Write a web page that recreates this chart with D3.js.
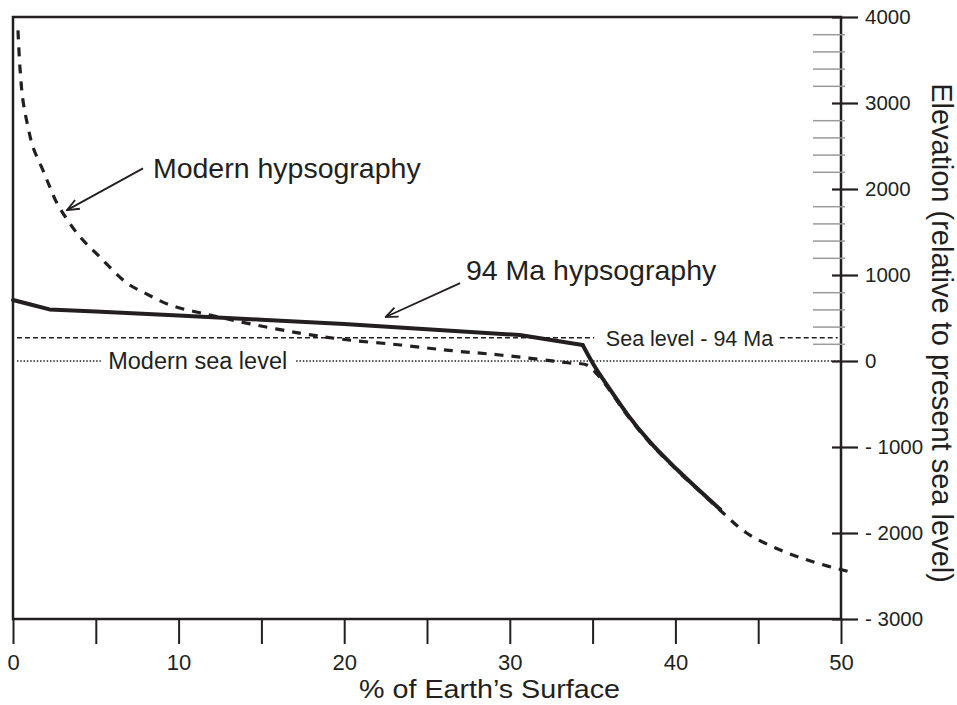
<!DOCTYPE html>
<html>
<head>
<meta charset="utf-8">
<script src="https://cdn.jsdelivr.net/npm/d3@7"></script>
<style>
  body { margin: 0; background: #fff; }
  svg text { font-family: "Liberation Sans", Arial, sans-serif; fill: #231f20; }
</style>
</head>
<body>
<div id="chart"></div>
<script>
// modern hypsography (dashed) : % of surface vs elevation (m)
var modernPct  = [0.30, 0.42, 0.60, 0.91, 1.21, 1.81, 2.23, 2.66, 3.86, 5.25, 6.88, 7.97, 9.5, 11.9, 14.1, 17.3, 20, 23.4, 26.5, 29.4, 33.5, 34.7, 35.3, 36.05, 37.1, 38.5, 40.1, 41.5, 42.7, 44.3, 46.3, 48.3, 50.5];
var modernElev = [3844, 3415, 3031, 2718, 2485, 2218, 2021, 1835, 1487, 1208, 906, 790, 650, 534, 441, 325, 250, 186, 120, 70, -20, -50, -160, -345, -635, -960, -1272, -1520, -1735, -2000, -2195, -2335, -2450];

// 94 Ma hypsography (solid): shelf part, then slope part from the break at 34.4 %
var ma94Pct  = [0, 1, 2.2, 5, 10, 15, 20, 25, 30.6, 34.4, 35.0, 36.05, 37.1, 38.5, 40.1, 41.5, 42.7];
var ma94Elev = [710, 660, 600, 575, 530, 480, 430, 370, 302, 186, -23, -330, -620, -950, -1262, -1515, -1725];
var ma94Break = 9; // index of the shelf break

var seaLevel94 = 270;
var seaLevelModern = 0;

var xTicks = [0, 5, 10, 15, 20, 25, 30, 35, 40, 45, 50];
var yTicks = [-3000, -2000, -1000, 0, 1000, 2000, 3000, 4000];
var yMinorTicks = d3.range(200, 4000, 200).filter(function (d) { return d % 1000 != 0; });

var width = 957, height = 705;
var ink = "#231f20";

var svg = d3.select("#chart").append("svg")
    .attr("width", width)
    .attr("height", height);

var x = d3.scaleLinear().domain([0, 50]).range([13, 841]);
var y = d3.scaleLinear().domain([-3000, 4000]).range([619, 17]);

// arrow marker
svg.append("defs").append("marker")
    .attr("id", "arrow")
    .attr("viewBox", "0 0 14 12")
    .attr("refX", 13)
    .attr("refY", 6)
    .attr("markerUnits", "userSpaceOnUse")
    .attr("markerWidth", 14)
    .attr("markerHeight", 12)
    .attr("orient", "auto")
    .append("path")
    .attr("d", "M1,1 L13,6 L1,11")
    .attr("fill", "none")
    .attr("stroke", ink)
    .attr("stroke-width", 1.8);

// sea level lines (with gaps for labels)
svg.append("line")
    .attr("x1", x(0.24)).attr("x2", x(35.1))
    .attr("y1", y(seaLevel94)).attr("y2", y(seaLevel94))
    .attr("stroke", ink).attr("stroke-width", 1.6).attr("stroke-dasharray", "5,3");
svg.append("line")
    .attr("x1", x(46.3)).attr("x2", x(49.8))
    .attr("y1", y(seaLevel94)).attr("y2", y(seaLevel94))
    .attr("stroke", ink).attr("stroke-width", 1.6).attr("stroke-dasharray", "5,3");
svg.append("line")
    .attr("x1", x(0.24)).attr("x2", x(5.3))
    .attr("y1", y(seaLevelModern)).attr("y2", y(seaLevelModern))
    .attr("stroke", ink).attr("stroke-width", 1.6).attr("stroke-dasharray", "1.5,1.8");
svg.append("line")
    .attr("x1", x(17.1)).attr("x2", x(50))
    .attr("y1", y(seaLevelModern)).attr("y2", y(seaLevelModern))
    .attr("stroke", ink).attr("stroke-width", 1.6).attr("stroke-dasharray", "1.5,1.8");

svg.append("text")
    .attr("x", x(35.8)).attr("y", y(seaLevel94) + 8)
    .style("font-size", "21.5px")
    .text("Sea level - 94 Ma");
svg.append("text")
    .attr("x", x(5.75)).attr("y", y(seaLevelModern) + 8)
    .style("font-size", "23.5px")
    .text("Modern sea level");

// curves
var modernData = modernPct.map(function (d, i) { return [d, modernElev[i]]; });
var ma94Data = ma94Pct.map(function (d, i) { return [d, ma94Elev[i]]; });

var line = d3.line()
    .x(function (d) { return x(d[0]); })
    .y(function (d) { return y(d[1]); });

svg.append("path")
    .datum(modernData)
    .attr("d", line.curve(d3.curveCatmullRom.alpha(0.5)))
    .attr("fill", "none")
    .attr("stroke", ink)
    .attr("stroke-width", 3.2)
    .attr("stroke-dasharray", "9,8");

svg.append("path")
    .datum(ma94Data.slice(0, ma94Break + 1))
    .attr("d", line.curve(d3.curveLinear))
    .attr("fill", "none")
    .attr("stroke", ink)
    .attr("stroke-width", 4)
    .attr("stroke-linejoin", "round")
    .attr("stroke-linecap", "round");

svg.append("path")
    .datum(ma94Data.slice(ma94Break))
    .attr("d", line.curve(d3.curveMonotoneX))
    .attr("fill", "none")
    .attr("stroke", ink)
    .attr("stroke-width", 4)
    .attr("stroke-linecap", "round");

// frame
svg.append("rect")
    .attr("x", x(0)).attr("y", y(4000))
    .attr("width", x(50) - x(0))
    .attr("height", y(-3000) - y(4000))
    .attr("fill", "none")
    .attr("stroke", ink)
    .attr("stroke-width", 2.5);

// x axis
var xAxis = svg.append("g")
    .attr("transform", "translate(0," + y(-3000) + ")")
    .call(d3.axisBottom(x)
        .tickValues(xTicks)
        .tickSize(25)
        .tickPadding(10)
        .tickFormat(function (d) { return d % 10 == 0 ? d : ""; }));
xAxis.select(".domain").remove();
xAxis.selectAll(".tick line").attr("stroke", ink).attr("stroke-width", 2);
xAxis.selectAll("text")
    .style("font-family", "'Liberation Sans', Arial, sans-serif")
    .style("font-size", "22px")
    .style("fill", ink);

svg.append("text")
    .attr("x", 359)
    .attr("y", 698)
    .attr("textLength", 261)
    .attr("lengthAdjust", "spacingAndGlyphs")
    .style("font-size", "25px")
    .text("% of Earth\u2019s Surface");

// y axis (right) minor ticks
var yMinor = svg.append("g")
    .attr("transform", "translate(" + x(50) + ",0)")
    .call(d3.axisRight(y).tickValues(yMinorTicks).tickSize(4).tickFormat(""));
yMinor.select(".domain").remove();
yMinor.selectAll(".tick line")
    .attr("x1", -28)
    .attr("stroke", "#9a9a9a")
    .attr("stroke-width", 1.5);

// y axis major ticks
var yAxis = svg.append("g")
    .attr("transform", "translate(" + x(50) + ",0)")
    .call(d3.axisRight(y)
        .tickValues(yTicks)
        .tickSize(17)
        .tickPadding(7)
        .tickFormat(function (d) { return d < 0 ? "- " + Math.abs(d) : d; }));
yAxis.select(".domain").remove();
yAxis.selectAll(".tick line")
    .attr("x1", -9)
    .attr("stroke", ink)
    .attr("stroke-width", 2.2);
yAxis.selectAll("text")
    .style("font-family", "'Liberation Sans', Arial, sans-serif")
    .style("font-size", "20.5px")
    .style("fill", ink);

svg.append("text")
    .attr("transform", "translate(932,333) rotate(90)")
    .attr("text-anchor", "middle")
    .style("font-size", "29px")
    .text("Elevation (relative to present sea level)");

// annotations
svg.append("text")
    .attr("x", x(8.45)).attr("y", 178)
    .style("font-size", "28.5px")
    .text("Modern hypsography");
svg.append("line")
    .attr("x1", x(7.85)).attr("y1", y(2240))
    .attr("x2", x(3.26)).attr("y2", y(1754))
    .attr("stroke", ink).attr("stroke-width", 1.8)
    .attr("marker-end", "url(#arrow)");

svg.append("text")
    .attr("x", x(27.35)).attr("y", 280)
    .style("font-size", "28.5px")
    .text("94 Ma hypsography");
svg.append("line")
    .attr("x1", x(27.0)).attr("y1", y(906))
    .attr("x2", x(22.5)).attr("y2", y(511))
    .attr("stroke", ink).attr("stroke-width", 1.8)
    .attr("marker-end", "url(#arrow)");
</script>
</body>
</html>
